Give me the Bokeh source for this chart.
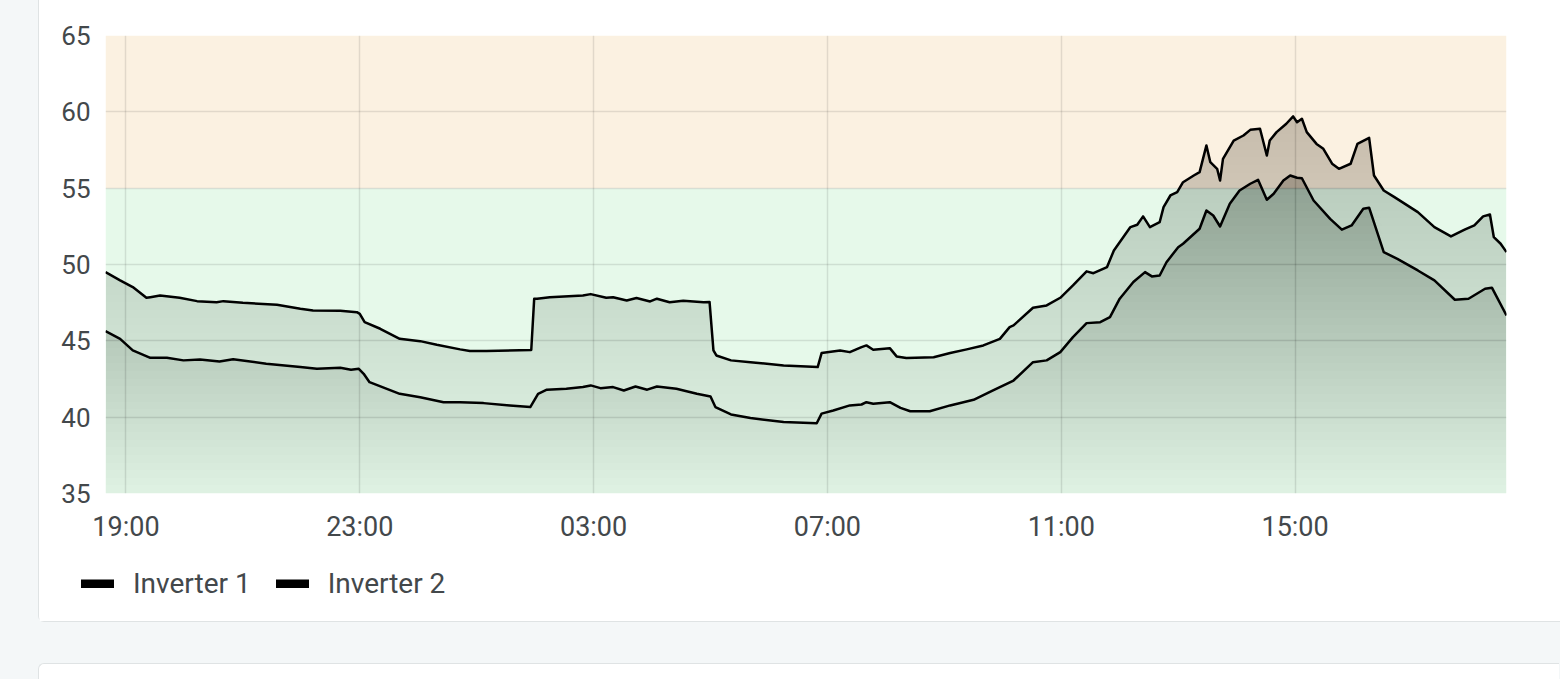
import numpy as np
import pandas as pd
from bokeh.plotting import figure
from bokeh.models import (Range1d, FixedTicker, DatetimeTickFormatter, BoxAnnotation,
                          Legend, LegendItem, Spacer)
from bokeh.layouts import column, row
from bokeh.embed import file_html
from bokeh.resources import INLINE

# ---------------- data ----------------
DAY0 = "2024-05-13"
series_names = ["Inverter 1", "Inverter 2"]

inv1_time = ["18:39", "18:54", "19:07", "19:21", "19:25", "19:35", "19:55", "20:13", "20:33", "20:40",
             "21:00", "21:35", "21:59", "22:12", "22:40", "22:57", "23:00", "23:05", "23:21", "23:41",
             "00:02", "00:19", "00:43", "00:53", "01:10", "01:56", "01:59", "02:02", "02:15", "02:49",
             "02:57", "03:13", "03:20", "03:34", "03:44", "03:58", "04:05", "04:18", "04:32", "04:53",
             "04:59", "05:03", "05:06", "05:21", "05:41", "06:15", "06:50", "06:54", "07:13", "07:23",
             "07:35", "07:40", "07:47", "08:04", "08:11", "08:21", "08:49", "09:06", "09:23", "09:40",
             "09:57", "10:07", "10:11", "10:31", "10:45", "10:59", "11:12", "11:26", "11:33", "11:47",
             "11:54", "12:11", "12:18", "12:24", "12:31", "12:41", "12:45", "12:52", "12:59", "13:05",
             "13:16", "13:22", "13:29", "13:33", "13:40", "13:43", "13:46", "13:57", "14:07", "14:14",
             "14:24", "14:31", "14:34", "14:41", "14:51", "14:58", "15:02", "15:07", "15:12", "15:22",
             "15:29", "15:38", "15:45", "15:57", "16:04", "16:16", "16:21", "16:31", "16:42", "17:06",
             "17:23", "17:40", "17:54", "18:04", "18:13", "18:20", "18:24", "18:31", "18:37"]
inv1_temp = [49.50, 48.96, 48.52, 47.82, 47.86, 47.97, 47.82, 47.60, 47.53, 47.60,
             47.49, 47.36, 47.10, 46.99, 46.97, 46.88, 46.77, 46.22, 45.79, 45.13,
             44.98, 44.74, 44.44, 44.33, 44.33, 44.40, 47.75, 47.75, 47.86, 47.97,
             48.06, 47.82, 47.86, 47.64, 47.80, 47.58, 47.76, 47.53, 47.62, 47.53,
             47.55, 44.37, 44.04, 43.72, 43.60, 43.39, 43.28, 44.20, 44.37, 44.26,
             44.59, 44.70, 44.42, 44.52, 43.98, 43.87, 43.93, 44.20, 44.44, 44.70,
             45.13, 45.90, 46.01, 47.17, 47.32, 47.82, 48.63, 49.55, 49.43, 49.83,
             50.92, 52.45, 52.60, 53.15, 52.45, 52.77, 53.76, 54.52, 54.74, 55.39,
             55.83, 56.05, 57.80, 56.70, 56.27, 55.50, 56.92, 58.12, 58.45, 58.82,
             58.89, 57.14, 58.12, 58.67, 59.22, 59.70, 59.32, 59.55, 58.67, 57.90,
             57.58, 56.60, 56.27, 56.60, 57.90, 58.30, 55.83, 54.85, 54.41, 53.43,
             52.45, 51.84, 52.28, 52.56, 53.15, 53.28, 51.79, 51.36, 50.81]

inv2_time = ["18:39", "18:54", "19:07", "19:25", "19:42", "19:59", "20:16", "20:36", "20:50", "21:24",
             "21:59", "22:16", "22:40", "22:51", "22:59", "23:04", "23:10", "23:41", "00:02", "00:26",
             "00:43", "01:07", "01:34", "01:55", "02:03", "02:12", "02:32", "02:49", "02:57", "03:07",
             "03:20", "03:31", "03:43", "03:55", "04:05", "04:25", "04:46", "05:00", "05:05", "05:21",
             "05:41", "06:15", "06:49", "06:54", "07:06", "07:23", "07:35", "07:40", "07:47", "08:04",
             "08:15", "08:25", "08:45", "09:06", "09:30", "09:50", "10:11", "10:31", "10:45", "10:59",
             "11:12", "11:26", "11:40", "11:50", "12:00", "12:14", "12:26", "12:33", "12:41", "12:48",
             "12:52", "13:00", "13:05", "13:22", "13:29", "13:36", "13:43", "13:53", "14:03", "14:14",
             "14:22", "14:31", "14:38", "14:48", "14:55", "15:02", "15:07", "15:19", "15:36", "15:48",
             "15:58", "16:10", "16:16", "16:31", "16:45", "17:06", "17:23", "17:44", "17:58", "18:15",
             "18:22", "18:37"]
inv2_temp = [45.63, 45.13, 44.37, 43.89, 43.89, 43.72, 43.78, 43.65, 43.80, 43.50,
             43.28, 43.17, 43.24, 43.11, 43.17, 42.84, 42.29, 41.53, 41.31, 40.98,
             40.98, 40.92, 40.77, 40.66, 41.53, 41.80, 41.86, 41.97, 42.08, 41.90,
             41.97, 41.75, 42.01, 41.80, 42.01, 41.86, 41.53, 41.36, 40.66, 40.18,
             39.94, 39.68, 39.60, 40.23, 40.44, 40.77, 40.83, 40.98, 40.88, 40.98,
             40.61, 40.39, 40.39, 40.77, 41.14, 41.75, 42.40, 43.60, 43.72, 44.26,
             45.24, 46.16, 46.22, 46.55, 47.76, 48.85, 49.50, 49.22, 49.28, 50.15,
             50.48, 51.13, 51.36, 52.34, 53.54, 53.21, 52.49, 53.98, 54.85, 55.29,
             55.55, 54.24, 54.63, 55.50, 55.83, 55.68, 55.65, 54.19, 52.99, 52.28,
             52.56, 53.65, 53.72, 50.81, 50.37, 49.61, 48.96, 47.69, 47.76, 48.41,
             48.48, 46.66]

x_tick_labels = ["19:00", "23:00", "03:00", "07:00", "11:00", "15:00"]
y_ticks = [35, 40, 45, 50, 55, 60, 65]
zone_edges = [35, 55, 65]
zone_colors = ["#e6f9ea", "#fbf1e1"]

# ---------------- helpers ----------------
def to_dt(times):
    out = []
    day = pd.Timestamp(DAY0)
    prev = None
    for s in times:
        h, m = map(int, s.split(":"))
        t = day + pd.Timedelta(hours=h, minutes=m)
        if prev is not None and t < prev:
            day = day + pd.Timedelta(days=1)
            t = t + pd.Timedelta(days=1)
        out.append(t)
        prev = t
    return out

t1 = to_dt(inv1_time)
t2 = to_dt(inv2_time)
tick_dt = to_dt(x_tick_labels)
tick_ms = [float(t.value // 10**6) for t in tick_dt]
series = [(t1, inv1_temp), (t2, inv2_temp)]

TEXT = "#43484b"
FONT = "Roboto"
CARD_BORDER = "1.5px solid #dfe3e4"
W = 1521

# ---------------- main chart ----------------
p = figure(x_axis_type="datetime", width=W, height=550,
           x_range=Range1d(start=t1[0], end=t1[-1]),
           y_range=Range1d(start=y_ticks[0], end=y_ticks[-1]),
           output_backend="svg", toolbar_location=None,
           min_border_left=66, min_border_right=54, min_border_top=35, min_border_bottom=57)
p.outline_line_color = None
p.background_fill_color = "white"
p.border_fill_color = "white"

# zones
for i, col in enumerate(zone_colors):
    p.add_layout(BoxAnnotation(bottom=zone_edges[i], top=zone_edges[i + 1], fill_color=col,
                               fill_alpha=1.0, line_color=None, level="image"))

# gradient fills (stacked thin translucent layers, darker toward the top)
ymin, ymax = y_ticks[0], y_ticks[-1]
step = 0.5
levels = np.arange(ymin, ymax, step)

def target_alpha(v):
    return 0.012 + 0.0085 * (v - ymin)

prev_A = 0.0
layer_alpha = []
for L in levels:
    A = target_alpha(L + step / 2)
    layer_alpha.append(1 - (1 - A) / (1 - prev_A))
    prev_A = A

for times, vals in series:
    v = np.array(vals)
    for L, a in zip(levels, layer_alpha):
        if v.max() <= L:
            continue
        p.varea(x=times, y1=float(L), y2=np.maximum(v, L), fill_color="black", fill_alpha=a)

for times, vals in series:
    p.line(times, vals, line_color="black", line_width=2.5, line_join="round")

# axes
p.xaxis.ticker = FixedTicker(ticks=tick_ms)
fmt = "%H:%M"
p.xaxis.formatter = DatetimeTickFormatter(minutes=fmt, hourmin=fmt, hours=fmt, days=fmt,
                                          months=fmt, years=fmt)
p.yaxis.ticker = FixedTicker(ticks=y_ticks)
for ax in (p.xaxis[0], p.yaxis[0]):
    ax.axis_line_color = None
    ax.major_tick_line_color = None
    ax.minor_tick_line_color = None
    ax.major_tick_out = 0
    ax.major_tick_in = 0
    ax.major_label_text_font = FONT
    ax.major_label_text_color = TEXT
p.xaxis.major_label_text_font_size = "27px"
p.yaxis.major_label_text_font_size = "26px"
p.xaxis.major_label_standoff = 17
p.yaxis.major_label_standoff = 15

for g in (p.xgrid[0], p.ygrid[0]):
    g.grid_line_color = "black"
    g.grid_line_alpha = 0.1
    g.grid_line_width = 1.5

# ---------------- legend strip ----------------
lf = figure(width=W, height=71, x_range=Range1d(0, 1), y_range=Range1d(0, 1),
            output_backend="svg", toolbar_location=None,
            x_axis_location=None, y_axis_location=None, min_border=0)
lf.outline_line_color = None
lf.grid.visible = False
lf.background_fill_color = "white"
lf.border_fill_color = "white"
# the series drawn with the legend's marker style (they fall outside this strip's ranges)
legend_marks = [lf.line(times, vals, line_color="black", line_width=9, line_cap="round")
                for times, vals in series]
legend = Legend(items=[LegendItem(label=n, renderers=[r]) for n, r in zip(series_names, legend_marks)],
                orientation="horizontal", location=(42, 21),
                label_text_font=FONT, label_text_font_size="28px", label_text_color=TEXT,
                glyph_width=33, glyph_height=9, label_standoff=19, spacing=25,
                padding=0, margin=0, border_line_color=None, background_fill_alpha=0)
lf.add_layout(legend, "center")

card = column(p, row(lf), spacing=0, margin=(0, 0, 0, 38),
              styles={"background-color": "white", "border-left": CARD_BORDER,
                      "border-bottom": CARD_BORDER, "border-bottom-left-radius": "6px"})

next_card = Spacer(width=W, height=16, margin=(41, 0, 0, 38),
                   styles={"background-color": "white", "border-top": CARD_BORDER,
                           "border-left": CARD_BORDER, "border-top-left-radius": "6px"})

page = column(card, next_card, spacing=0, styles={"background-color": "#f4f7f8"})

open("out.html", "w").write(file_html(page, INLINE))
